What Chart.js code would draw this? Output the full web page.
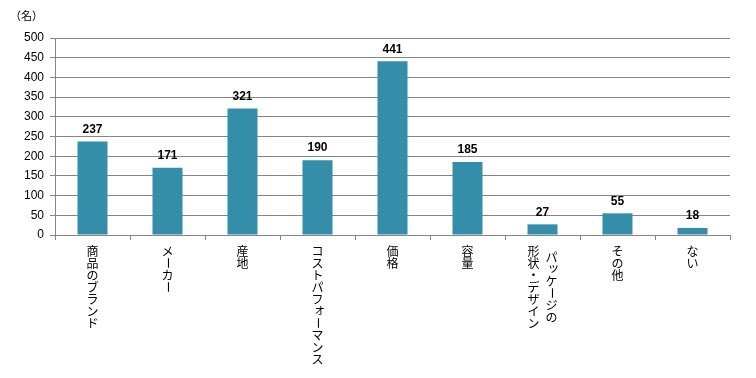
<!DOCTYPE html>
<html>
<head>
<meta charset="utf-8">
<script src="https://cdn.jsdelivr.net/npm/chart.js@4.4.0/dist/chart.umd.min.js"></script>
<style>
  html, body { margin: 0; padding: 0; background: #fff; }
  #wrap { width: 756px; height: 378px; position: relative; }
</style>
</head>
<body>
<div id="wrap"><canvas id="myChart" width="756" height="378"></canvas></div>
<script>
// categories: each entry is a list of vertical columns (right column first)
var categories = [
  ['商品のブランド'],
  ['メーカー'],
  ['産地'],
  ['コストパフォーマンス'],
  ['価格'],
  ['容量'],
  ['パッケージの', '形状・デザイン'],
  ['その他'],
  ['ない']
];
var counts = [237, 171, 321, 190, 441, 185, 27, 55, 18];
var yTicks = [0, 50, 100, 150, 200, 250, 300, 350, 400, 450, 500];
var unitLabel = '（名）';

var barColor = '#348EAA';
var gridColor = '#868686';

// value labels above bars
var valueLabels = {
  id: 'valueLabels',
  afterDatasetsDraw: function(chart) {
    var ctx = chart.ctx;
    var meta = chart.getDatasetMeta(0);
    ctx.save();
    ctx.font = 'bold 12px "Liberation Sans", Arial, sans-serif';
    ctx.fillStyle = '#000';
    ctx.textAlign = 'center';
    ctx.textBaseline = 'bottom';
    meta.data.forEach(function(bar, i) {
      ctx.fillText(String(counts[i]), bar.x, bar.y - 6);
    });
    ctx.restore();
  }
};

// vertical (tategaki) category labels + unit
var verticalLabels = {
  id: 'verticalLabels',
  afterDraw: function(chart) {
    var ctx = chart.ctx;
    var xs = chart.scales.x;
    var bottom = chart.chartArea.bottom;
    ctx.save();
    ctx.font = '12px "Noto Sans CJK JP", sans-serif';
    ctx.fillStyle = '#000';
    ctx.textAlign = 'center';
    ctx.textBaseline = 'middle';
    var pitch = 12;
    categories.forEach(function(cols, i) {
      var cx = xs.getPixelForValue(i);
      var n = cols.length;
      cols.forEach(function(col, c) {
        var x = n === 1 ? cx : cx + (c === 0 ? 9 : -9);
        var y0 = bottom + 16 + (n > 1 && c === 0 ? 6 : 0);
        Array.from(col).forEach(function(ch, k) {
          var y = y0 + k * pitch;
          if (ch === 'ー') {
            ctx.save();
            ctx.translate(x, y);
            ctx.rotate(Math.PI / 2);
            ctx.fillText(ch, 0, 0);
            ctx.restore();
          } else if ('ッォィャュョ'.indexOf(ch) >= 0) {
            ctx.fillText(ch, x + 2, y - 2);
          } else {
            ctx.fillText(ch, x, y);
          }
        });
      });
    });
    ctx.font = '11px "Noto Sans CJK JP", sans-serif';
    ctx.textAlign = 'left';
    ctx.fillText(unitLabel, 10, 16);
    ctx.restore();
  }
};

var ctx = document.getElementById('myChart').getContext('2d');
var chart = new Chart(ctx, {
  type: 'bar',
  data: {
    labels: categories.map(function(c) { return c.join(''); }),
    datasets: [{
      data: counts,
      backgroundColor: barColor,
      barPercentage: 0.4,
      categoryPercentage: 1.0
    }]
  },
  options: {
    responsive: false,
    animation: false,
    layout: { padding: { top: 38, right: 26, left: 0, bottom: 0 } },
    plugins: {
      legend: { display: false },
      tooltip: { enabled: false }
    },
    scales: {
      x: {
        offset: true,
        grid: {
          offset: true,
          drawOnChartArea: false,
          drawTicks: true,
          tickLength: 5,
          color: gridColor
        },
        border: { color: gridColor, width: 1 },
        ticks: { display: false },
        afterFit: function(scale) { scale.height = 143; }
      },
      y: {
        min: 0,
        max: 500,
        afterBuildTicks: function(scale) {
          scale.ticks = yTicks.map(function(v) { return { value: v }; });
        },
        grid: {
          color: gridColor,
          tickLength: 5
        },
        border: { color: gridColor, width: 1 },
        ticks: {
          color: '#000',
          padding: 6,
          font: { family: '"Liberation Sans", Arial, sans-serif', size: 12 }
        },
        afterFit: function(scale) { scale.width = 55; }
      }
    }
  },
  plugins: [valueLabels, verticalLabels]
});
</script>
</body>
</html>
